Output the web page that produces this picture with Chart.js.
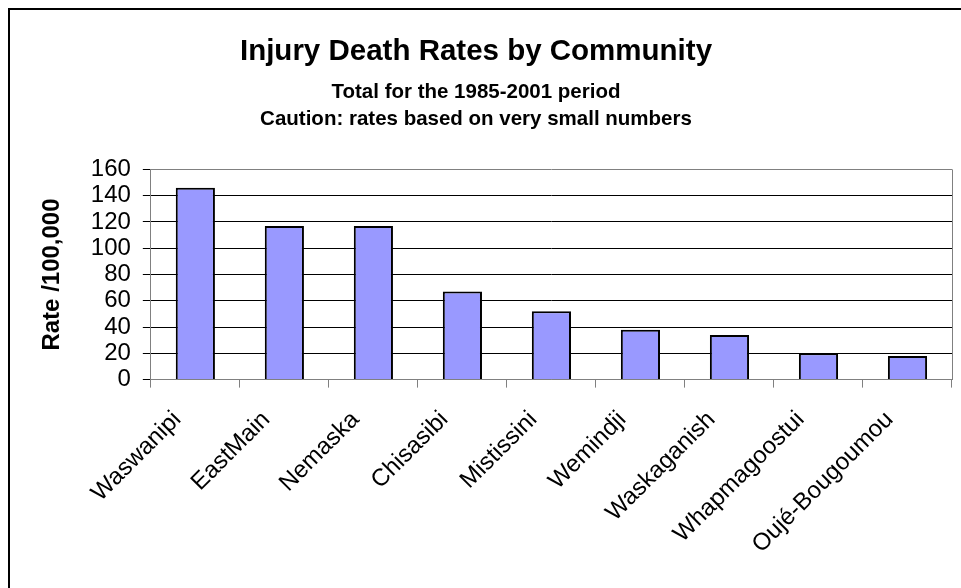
<!DOCTYPE html>
<html>
<head>
<meta charset="utf-8">
<script src="https://cdn.jsdelivr.net/npm/chart.js@4/dist/chart.umd.min.js"></script>
<style>
  html, body { margin: 0; padding: 0; background: #fff; }
  #graficoTaxas { display: block; }
</style>
</head>
<body>
<canvas id="graficoTaxas" width="961" height="588"></canvas>
<script>
const communities = ['Waswanipi', 'EastMain', 'Nemaska', 'Chisasibi', 'Mistissini', 'Wemindji', 'Waskaganish', 'Whapmagoostui', 'Oujé-Bougoumou'];
const rates = [146, 117, 117, 67, 52, 38, 34, 20, 18];
const yTicks = [0, 20, 40, 60, 80, 100, 120, 140, 160];

// frame around the whole picture and right edge of the plot area
const frame = {
  id: 'frame',
  beforeDraw(chart) {
    const c = chart.ctx;
    c.save();
    c.strokeStyle = '#000';
    c.lineWidth = 2;
    c.strokeRect(9, 9, 1000, 1000);
    c.restore();
  },
  afterDraw(chart) {
    const {ctx: c, chartArea: a} = chart;
    c.save();
    c.strokeStyle = '#808080';
    c.lineWidth = 1;
    c.beginPath();
    c.moveTo(Math.round(a.right) + 0.5, a.top);
    c.lineTo(Math.round(a.right) + 0.5, a.bottom);
    c.stroke();
    c.restore();
  }
};

Chart.defaults.font.family = "'Liberation Sans', Arial, sans-serif";
Chart.defaults.color = '#000';

new Chart(document.getElementById('graficoTaxas').getContext('2d'), {
  type: 'bar',
  data: {
    labels: communities,
    datasets: [{
      data: rates,
      backgroundColor: '#9999FF',
      borderColor: '#000',
      borderWidth: 2,
      barPercentage: 0.44,
      categoryPercentage: 1
    }]
  },
  options: {
    responsive: false,
    animation: false,
    devicePixelRatio: 1,
    layout: { padding: { top: 0, left: 0, right: 9, bottom: 11 } },
    plugins: {
      legend: { display: false },
      tooltip: { enabled: false },
      title: {
        display: true,
        text: 'Injury Death Rates by Community',
        font: { size: 29.5, weight: 'bold' },
        padding: { top: 34, bottom: 0 }
      },
      subtitle: {
        display: true,
        text: ['Total for the 1985-2001 period', 'Caution: rates based on very small numbers'],
        font: { size: 20.5, weight: 'bold', lineHeight: 1.317 },
        color: '#000',
        padding: { top: 9, bottom: 37 }
      }
    },
    scales: {
      x: {
        border: { color: '#808080' },
        grid: { offset: true, drawOnChartArea: false, tickLength: 8, color: '#808080' },
        ticks: { minRotation: 45, maxRotation: 45, autoSkip: false, padding: 18, labelOffset: -18, font: { size: 24 } }
      },
      y: {
        min: 0,
        max: 160,
        afterBuildTicks: (scale) => { scale.ticks = yTicks.map(v => ({ value: v })); },
        border: { color: '#808080' },
        grid: {
          color: (ctx) => (ctx.tick && (ctx.tick.value === 160 || ctx.tick.value === 0)) ? '#808080' : '#000',
          tickColor: '#000',
          tickLength: 8
        },
        ticks: { autoSkip: false, padding: 12, font: { size: 24 } },
        title: {
          display: true,
          text: 'Rate /100,000',
          font: { size: 24, weight: 'bold' },
          padding: { top: 38, bottom: 12 }
        }
      }
    }
  },
  plugins: [frame]
});
</script>
</body>
</html>
